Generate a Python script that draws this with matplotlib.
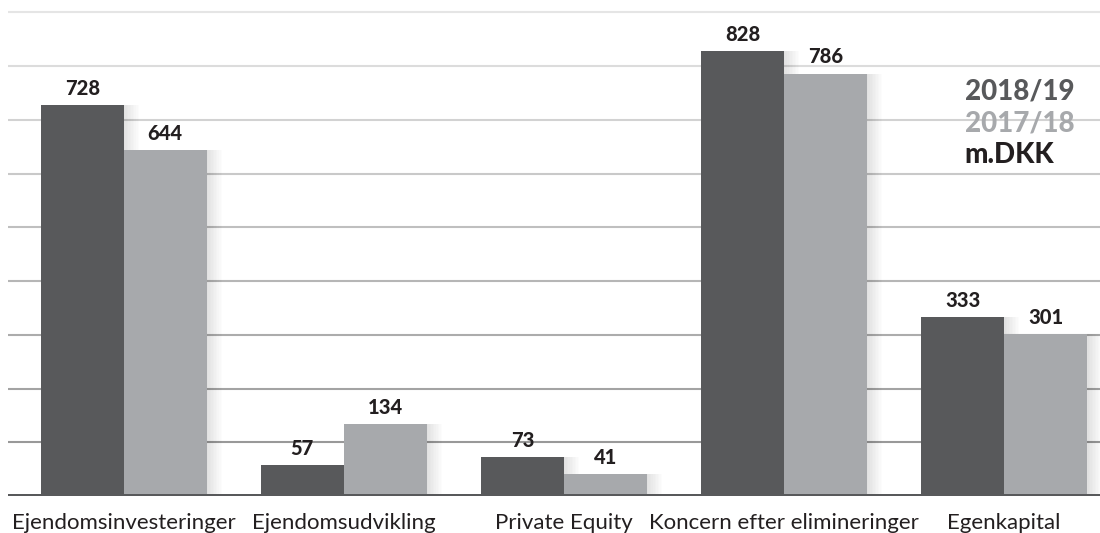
import numpy as np
import matplotlib
matplotlib.use("Agg")
import matplotlib.pyplot as plt

categories = ["Ejendomsinvesteringer", "Ejendomsudvikling", "Private Equity",
              "Koncern efter elimineringer", "Egenkapital"]
values_1819 = [728, 57, 73, 828, 333]
values_1718 = [644, 134, 41, 786, 301]
grid_values = [100, 200, 300, 400, 500, 600, 700, 800, 900]

dark = "#58595b"
light = "#a7a9ac"
text_col = "#231f20"

plt.rcParams['font.family'] = ['Lato', 'DejaVu Sans']

fig = plt.figure(figsize=(11, 5.33), dpi=100)
ax = fig.add_axes([0.007, 0.0694, 0.993, 0.9306])

x = np.arange(len(categories))
w = 0.377

# gridlines fade from light at the top to darker near the base
for i, g in enumerate(grid_values):
    t = i / (len(grid_values) - 1)
    c = 0.60 + 0.30 * t
    ax.axhline(g, color=(c, c, c), lw=1.5, zorder=1)

# soft shadows to the right of the bars
for k in range(10):
    off = 0.007 * (k + 1)
    ax.bar(x - w / 2 + off, values_1819, w, color="black", alpha=0.012, zorder=2, linewidth=0)
    ax.bar(x + w / 2 + off, values_1718, w, color="black", alpha=0.012, zorder=2, linewidth=0)

ax.bar(x - w / 2, values_1819, w, color=dark, zorder=3, linewidth=0)
ax.bar(x + w / 2, values_1718, w, color=light, zorder=3, linewidth=0)

for xi, v in zip(x, values_1819):
    ax.text(xi - w / 2, v + 31, str(v), ha="center", va="center", fontsize=14.5,
            fontweight="black", color=text_col, zorder=4)
for xi, v in zip(x, values_1718):
    ax.text(xi + w / 2, v + 31, str(v), ha="center", va="center", fontsize=14.5,
            fontweight="black", color=text_col, zorder=4)

ax.axhline(0, color=dark, lw=3.6, zorder=5)

ax.set_xlim(-0.527, 4.436)
ax.set_ylim(0, 923)
for s in ax.spines.values():
    s.set_visible(False)
ax.set_yticks([])
ax.set_xticks(x)
ax.set_xticklabels(categories, fontsize=16, color=text_col)
ax.tick_params(axis="x", length=0, pad=12)

fig.text(0.877, 0.829, "2018/19", ha="left", va="center", fontsize=20,
         fontweight="black", color=dark)
fig.text(0.877, 0.769, "2017/18", ha="left", va="center", fontsize=20,
         fontweight="black", color=light)
fig.text(0.877, 0.709, "m.DKK", ha="left", va="center", fontsize=20,
         fontweight="black", color=text_col)

fig.savefig("out.png", dpi=100)
